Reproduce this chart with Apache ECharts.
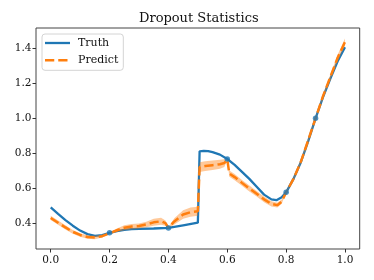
<!DOCTYPE html>
<html><head><meta charset="utf-8">
<script src="https://cdn.jsdelivr.net/npm/echarts@6/dist/echarts.min.js"></script>
<style>html,body{margin:0;padding:0;background:#fff}#c{width:374px;height:280px}</style>
</head><body><div id="c"></div>
<script>
const truthX = [0,0.025,0.05,0.075,0.1,0.125,0.15,0.175,0.2,0.225,0.25,0.275,0.3,0.35,0.4,0.45,0.5,0.506,0.52,0.535,0.55,0.575,0.6,0.625,0.65,0.675,0.7,0.725,0.75,0.767,0.785,0.8,0.825,0.85,0.875,0.9,0.925,0.95,0.975,1.0];
const truthY = [0.492,0.455,0.420,0.388,0.360,0.340,0.330,0.334,0.347,0.357,0.364,0.368,0.370,0.372,0.375,0.390,0.405,0.812,0.814,0.813,0.807,0.793,0.768,0.735,0.695,0.655,0.610,0.565,0.538,0.533,0.550,0.578,0.655,0.750,0.870,1.000,1.120,1.225,1.325,1.405];
const predX = [0,0.025,0.05,0.075,0.1,0.125,0.15,0.175,0.2,0.225,0.25,0.275,0.3,0.325,0.35,0.375,0.39,0.4,0.42,0.45,0.475,0.5,0.506,0.525,0.55,0.575,0.59,0.6,0.607,0.625,0.65,0.675,0.7,0.725,0.75,0.77,0.785,0.8,0.825,0.85,0.875,0.9,0.925,0.95,0.975,1.0];
const predY = [0.432,0.405,0.378,0.353,0.335,0.323,0.320,0.328,0.345,0.362,0.376,0.383,0.386,0.395,0.407,0.413,0.402,0.376,0.412,0.452,0.465,0.470,0.722,0.728,0.733,0.738,0.745,0.765,0.685,0.665,0.632,0.600,0.570,0.538,0.512,0.505,0.525,0.578,0.655,0.752,0.875,1.000,1.125,1.235,1.345,1.435];
const predHalf = [0.012,0.012,0.012,0.011,0.010,0.010,0.010,0.008,0.003,0.010,0.014,0.015,0.014,0.016,0.020,0.020,0.015,0.003,0.018,0.024,0.026,0.026,0.028,0.028,0.027,0.026,0.022,0.004,0.018,0.018,0.017,0.017,0.016,0.016,0.015,0.014,0.012,0.003,0.008,0.010,0.010,0.004,0.010,0.014,0.018,0.020];
const obsX = [0.2,0.4,0.6,0.8,0.9];
const obsY = [0.347,0.375,0.768,0.578,1.000];
const xTicks = [0,0.2,0.4,0.6,0.8,1.0];
const yTicks = [0.4,0.6,0.8,1.0,1.2,1.4];

const FONT = 'DejaVu Serif';
const zip = (a, b) => a.map((v, i) => [v, b[i]]);
const bandData = predX.map((x, i) => [x, predY[i] - predHalf[i], predY[i] + predHalf[i]]);

const chart = echarts.init(document.getElementById('c'), null, {renderer: 'canvas'});
chart.setOption({
  animation: false,
  backgroundColor: '#fff',
  title: {
    text: 'Dropout Statistics', left: 139, top: 12, padding: 0,
    textStyle: {fontFamily: FONT, fontSize: 13, fontWeight: 'normal', color: '#111'}
  },
  legend: {
    data: [
      {name: 'Truth', icon: 'path://M0,0M28,14M0,5.85H25V8.15H0Z', itemStyle: {color: '#1f77b4', borderWidth: 0}},
      {name: 'Predict', icon: 'path://M0,0M28,14M0,5.75H9.25V8.25H0ZM13.25,5.75H22.5V8.25H13.25Z', itemStyle: {color: '#ff7f0e', borderWidth: 0}}
    ],
    orient: 'vertical', left: 42, top: 34,
    padding: [2, 5, 3, 3], itemWidth: 28, itemHeight: 14, itemGap: 3.3,
    itemStyle: {borderWidth: 0},
    backgroundColor: 'rgba(255,255,255,0.8)', borderColor: '#d4d4d4', borderWidth: 1, borderRadius: 3,
    textStyle: {fontFamily: FONT, fontSize: 11, color: '#111'}
  },
  grid: {left: 36, top: 28, width: 323.7, height: 221, show: true, borderColor: '#444', borderWidth: 1, containLabel: false},
  xAxis: {
    type: 'value', min: -0.05, max: 1.05,
    axisLine: {show: false, onZero: false}, splitLine: {show: false},
    axisTick: {show: true, length: 3.5, customValues: xTicks, lineStyle: {color: '#333'}},
    axisLabel: {customValues: xTicks, margin: 6, fontFamily: FONT, fontSize: 10.5, color: '#111', formatter: v => v.toFixed(1)}
  },
  yAxis: {
    type: 'value', min: 0.255, max: 1.515,
    axisLine: {show: false, onZero: false}, splitLine: {show: false},
    axisTick: {show: true, length: 3.5, customValues: yTicks, lineStyle: {color: '#333'}},
    axisLabel: {customValues: yTicks, margin: 4.5, fontFamily: FONT, fontSize: 10.5, color: '#111', formatter: v => v.toFixed(1)}
  },
  series: [
    {
      name: 'Truth', type: 'line', data: zip(truthX, truthY), symbol: 'none', z: 2,
      color: '#1f77b4', lineStyle: {color: '#1f77b4', width: 2.3}
    },
    {
      name: 'Predict', type: 'line', data: zip(predX, predY), symbol: 'none', z: 3,
      color: '#ff7f0e', lineStyle: {color: '#ff7f0e', width: 2.5, type: [9.25, 4]}
    },
    {
      name: 'band', type: 'custom', data: bandData, z: 4, silent: true,
      encode: {x: 0, y: [1, 2]},
      renderItem: function (params, api) {
        if (params.dataIndex !== 0) return null;
        const upper = bandData.map(d => api.coord([d[0], d[2]]));
        const lower = bandData.map(d => api.coord([d[0], d[1]])).reverse();
        return {type: 'polygon', shape: {points: upper.concat(lower)},
          style: {fill: 'rgba(255,127,14,0.42)', stroke: 'none'}};
      }
    },
    {
      name: 'obs', type: 'scatter', data: zip(obsX, obsY), symbolSize: 5.5, z: 5,
      itemStyle: {color: '#1f77b4'}
    }
  ]
});
</script></body></html>
